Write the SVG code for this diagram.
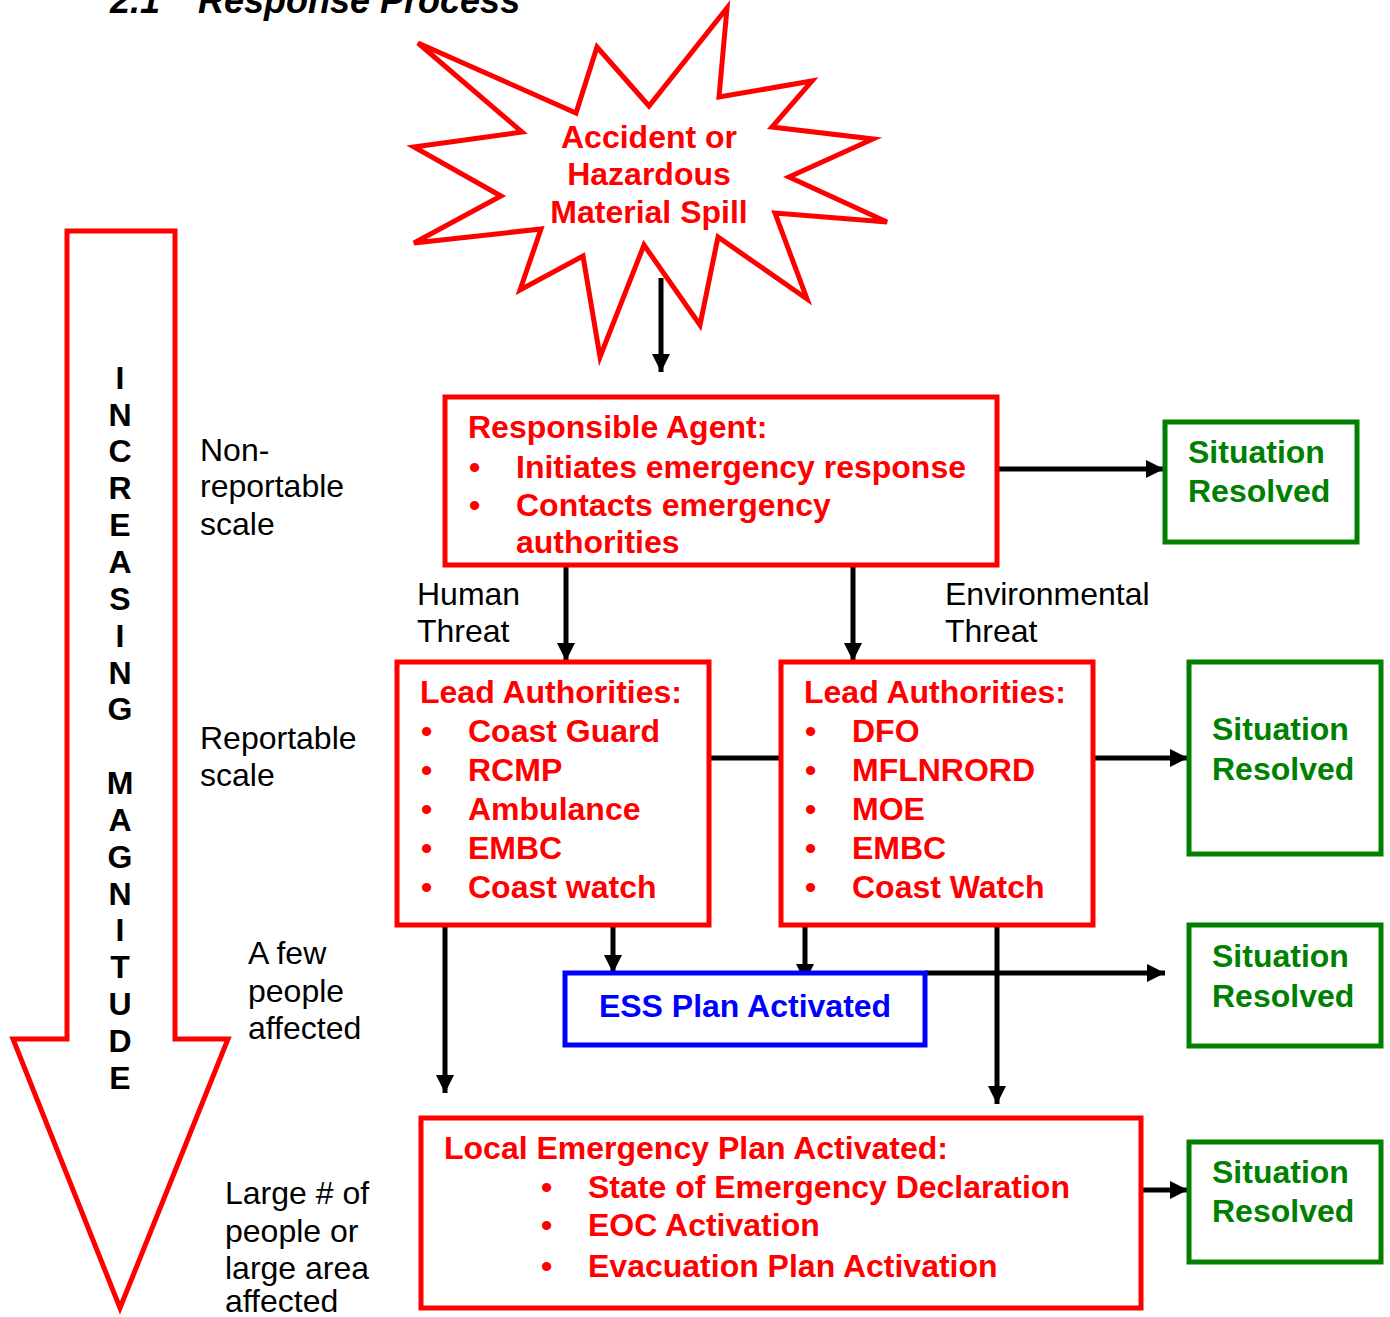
<svg xmlns="http://www.w3.org/2000/svg" width="1390" height="1317" viewBox="0 0 1390 1317">
<defs>
<marker id="ah" markerUnits="userSpaceOnUse" markerWidth="20" markerHeight="20" refX="18" refY="10" orient="auto">
<path d="M0,1 L18,10 L0,19 Z" fill="#000"/>
</marker>
<style>
.t{font-family:"Liberation Sans",Arial,sans-serif;font-size:32px}
.b{font-weight:bold}
.ttl{font-size:36px;font-style:italic}
.red{fill:#FF0000}
.grn{fill:#008000}
.blu{fill:#0000FF}
.rbox{fill:#fff;stroke:#FF0000;stroke-width:5}
.gbox{fill:#fff;stroke:#008000;stroke-width:5}
.bbox{fill:#fff;stroke:#0000FF;stroke-width:5}
.c{stroke:#000;stroke-width:5;fill:none}
</style>
</defs>
<rect width="1390" height="1317" fill="#fff"/>
<g id="title">
<text class="t b ttl" x="110" y="13">2.1</text>
<text class="t b ttl" x="198" y="13">Response Process</text>
</g>
<g id="magnitude">
<path d="M67,231 L175,231 L175,1039 L228,1039 L120,1308 L13,1039 L67,1039 Z" fill="#fff" stroke="#FF0000" stroke-width="5"/>
<text class="t b" text-anchor="middle">
<tspan x="120" y="389">I</tspan><tspan x="120" y="426">N</tspan><tspan x="120" y="462">C</tspan><tspan x="120" y="499">R</tspan><tspan x="120" y="536">E</tspan><tspan x="120" y="573">A</tspan><tspan x="120" y="610">S</tspan><tspan x="120" y="647">I</tspan><tspan x="120" y="684">N</tspan><tspan x="120" y="720">G</tspan><tspan x="120" y="794">M</tspan><tspan x="120" y="831">A</tspan><tspan x="120" y="868">G</tspan><tspan x="120" y="905">N</tspan><tspan x="120" y="941">I</tspan><tspan x="120" y="978">T</tspan><tspan x="120" y="1015">U</tspan><tspan x="120" y="1052">D</tspan><tspan x="120" y="1089">E</tspan>
</text>
</g>
<g id="scale-labels">
<text class="t"><tspan x="200" y="461">Non-</tspan><tspan x="200" y="497">reportable</tspan><tspan x="200" y="535">scale</tspan></text>
<text class="t"><tspan x="200" y="749">Reportable</tspan><tspan x="200" y="786">scale</tspan></text>
<text class="t"><tspan x="248" y="964">A few</tspan><tspan x="248" y="1002">people</tspan><tspan x="248" y="1039">affected</tspan></text>
<text class="t"><tspan x="225" y="1204">Large # of</tspan><tspan x="225" y="1242">people or</tspan><tspan x="225" y="1279">large area</tspan><tspan x="225" y="1312">affected</tspan></text>
</g>
<g id="connectors">
<line class="c" x1="661" y1="278" x2="661" y2="372" marker-end="url(#ah)"/>
<line class="c" x1="997" y1="469" x2="1164" y2="469" marker-end="url(#ah)"/>
<line class="c" x1="566" y1="565" x2="566" y2="661" marker-end="url(#ah)"/>
<line class="c" x1="853" y1="565" x2="853" y2="661" marker-end="url(#ah)"/>
<line class="c" x1="709" y1="758" x2="781" y2="758"/>
<line class="c" x1="1093" y1="758" x2="1188" y2="758" marker-end="url(#ah)"/>
<line class="c" x1="613" y1="925" x2="613" y2="973" marker-end="url(#ah)"/>
<line class="c" x1="805" y1="925" x2="805" y2="982" marker-end="url(#ah)"/>
<line class="c" x1="925" y1="973" x2="1165" y2="973" marker-end="url(#ah)"/>
<line class="c" x1="445" y1="925" x2="445" y2="1093" marker-end="url(#ah)"/>
<line class="c" x1="997" y1="925" x2="997" y2="1104" marker-end="url(#ah)"/>
<line class="c" x1="1141" y1="1190" x2="1188" y2="1190" marker-end="url(#ah)"/>
</g>
<g id="accident">
<path d="M418,43 L576,113 L597,47 L649,106 L727,8 L719,97 L812,81 L772,127 L873,139 L789,177 L887,222 L775,213 L807,299 L718,237 L700,325 L644,245 L600,357 L583,256 L520,290 L541,229 L414,243 L501,196 L414,147 L522,132 Z" fill="#fff" stroke="#FF0000" stroke-width="5" stroke-linejoin="miter"/>
<text class="t b red" text-anchor="middle"><tspan x="649" y="148">Accident or</tspan><tspan x="649" y="185">Hazardous</tspan><tspan x="649" y="223">Material Spill</tspan></text>
</g>
<g id="responsible-agent">
<rect class="rbox" x="445" y="397" width="552" height="168"/>
<text class="t b red"><tspan x="468" y="438">Responsible Agent:</tspan><tspan x="469" y="478">•</tspan><tspan x="516" y="478">Initiates emergency response</tspan><tspan x="469" y="516">•</tspan><tspan x="516" y="516">Contacts emergency</tspan><tspan x="516" y="553">authorities</tspan></text>
</g>
<g id="resolved-1">
<rect class="gbox" x="1165" y="422" width="192" height="120"/>
<text class="t b grn"><tspan x="1188" y="463">Situation</tspan><tspan x="1188" y="502">Resolved</tspan></text>
</g>
<g id="threat-labels">
<text class="t"><tspan x="417" y="605">Human</tspan><tspan x="417" y="642">Threat</tspan></text>
<text class="t"><tspan x="945" y="605">Environmental</tspan><tspan x="945" y="642">Threat</tspan></text>
</g>
<g id="lead-human">
<rect class="rbox" x="397" y="662" width="312" height="263"/>
<text class="t b red"><tspan x="420" y="703">Lead Authorities:</tspan>
<tspan x="421" y="742">•</tspan><tspan x="468" y="742">Coast Guard</tspan>
<tspan x="421" y="781">•</tspan><tspan x="468" y="781">RCMP</tspan>
<tspan x="421" y="820">•</tspan><tspan x="468" y="820">Ambulance</tspan>
<tspan x="421" y="859">•</tspan><tspan x="468" y="859">EMBC</tspan>
<tspan x="421" y="898">•</tspan><tspan x="468" y="898">Coast watch</tspan></text>
</g>
<g id="lead-env">
<rect class="rbox" x="781" y="662" width="312" height="263"/>
<text class="t b red"><tspan x="804" y="703">Lead Authorities:</tspan>
<tspan x="805" y="742">•</tspan><tspan x="852" y="742">DFO</tspan>
<tspan x="805" y="781">•</tspan><tspan x="852" y="781">MFLNRORD</tspan>
<tspan x="805" y="820">•</tspan><tspan x="852" y="820">MOE</tspan>
<tspan x="805" y="859">•</tspan><tspan x="852" y="859">EMBC</tspan>
<tspan x="805" y="898">•</tspan><tspan x="852" y="898">Coast Watch</tspan></text>
</g>
<g id="resolved-2">
<rect class="gbox" x="1189" y="662" width="192" height="192"/>
<text class="t b grn"><tspan x="1212" y="740">Situation</tspan><tspan x="1212" y="780">Resolved</tspan></text>
</g>
<g id="ess">
<rect class="bbox" x="565" y="973" width="360" height="72"/>
<text class="t b blu" x="745" y="1017" text-anchor="middle">ESS Plan Activated</text>
</g>
<g id="resolved-3">
<rect class="gbox" x="1189" y="925" width="192" height="121"/>
<text class="t b grn"><tspan x="1212" y="967">Situation</tspan><tspan x="1212" y="1007">Resolved</tspan></text>
</g>
<g id="local-plan">
<rect class="rbox" x="421" y="1118" width="720" height="190"/>
<text class="t b red"><tspan x="444" y="1159">Local Emergency Plan Activated:</tspan>
<tspan x="541" y="1198">•</tspan><tspan x="588" y="1198">State of Emergency Declaration</tspan>
<tspan x="541" y="1236">•</tspan><tspan x="588" y="1236">EOC Activation</tspan>
<tspan x="541" y="1277">•</tspan><tspan x="588" y="1277">Evacuation Plan Activation</tspan></text>
</g>
<g id="resolved-4">
<rect class="gbox" x="1189" y="1142" width="192" height="120"/>
<text class="t b grn"><tspan x="1212" y="1183">Situation</tspan><tspan x="1212" y="1222">Resolved</tspan></text>
</g>
</svg>
